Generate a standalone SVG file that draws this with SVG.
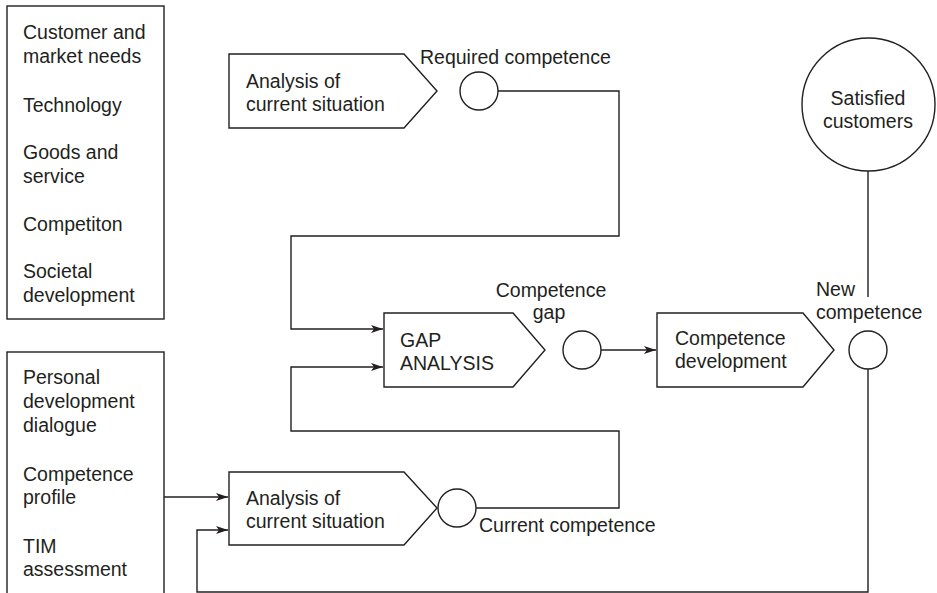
<svg xmlns="http://www.w3.org/2000/svg" width="937" height="593" viewBox="0 0 937 593">
  <style>
    .shape { fill: #ffffff; stroke: #231f20; stroke-width: 1.4; }
    .wire { fill: none; stroke: #231f20; stroke-width: 1.4; }
    text { font-family: "Liberation Sans", Arial, sans-serif; font-size: 19.5px; fill: #231f20; }
    .mid { text-anchor: middle; }
  </style>
  <defs>
    <marker id="arrow" viewBox="0 0 12 8" refX="12" refY="4" markerWidth="12" markerHeight="8" markerUnits="userSpaceOnUse" orient="auto">
      <path d="M0,0 L12,4 L0,8 L3,4 Z" fill="#231f20"/>
    </marker>
  </defs>
  <rect width="937" height="593" fill="#ffffff"/>

  <!-- connectors -->
  <g id="connectors">
    <!-- required competence down into gap analysis -->
    <polyline class="wire" points="498,91 619,91 619,236 291,236 291,329 383,329" marker-end="url(#arrow)"/>
    <!-- current competence up into gap analysis -->
    <polyline class="wire" points="476,508 619,508 619,431 291,431 291,367 383,367" marker-end="url(#arrow)"/>
    <!-- competence gap to development -->
    <line class="wire" x1="601" y1="350" x2="656" y2="350" marker-end="url(#arrow)"/>
    <!-- competence profile into current analysis -->
    <line class="wire" x1="164" y1="497" x2="228" y2="497" marker-end="url(#arrow)"/>
    <!-- new competence feeding back -->
    <polyline class="wire" points="868,369 868,592 197,592 197,530 228,530" marker-end="url(#arrow)"/>
    <!-- new competence to satisfied customers -->
    <line class="wire" x1="868" y1="171" x2="868" y2="297"/>
  </g>

  <!-- external factors -->
  <g id="external-factors">
    <rect class="shape" x="7" y="6" width="157" height="313"/>
    <text x="23" y="39">Customer and</text>
    <text x="23" y="63">market needs</text>
    <text x="23" y="112">Technology</text>
    <text x="23" y="159">Goods and</text>
    <text x="23" y="183">service</text>
    <text x="23" y="231">Competiton</text>
    <text x="23" y="278">Societal</text>
    <text x="23" y="302">development</text>
  </g>

  <!-- individual inputs -->
  <g id="individual-inputs">
    <rect class="shape" x="7" y="352" width="157" height="260"/>
    <text x="23" y="384">Personal</text>
    <text x="23" y="408">development</text>
    <text x="23" y="432">dialogue</text>
    <text x="23" y="481">Competence</text>
    <text x="23" y="504">profile</text>
    <text x="23" y="553">TIM</text>
    <text x="23" y="576">assessment</text>
  </g>

  <!-- analysis of the required situation -->
  <g id="analysis-required">
    <polygon class="shape" points="229,54 404,54 437,91 404,128 229,128"/>
    <text x="246" y="88">Analysis of</text>
    <text x="246" y="111">current situation</text>
  </g>
  <g id="required-competence">
    <circle class="shape" cx="479" cy="91" r="19"/>
    <text x="420" y="64">Required competence</text>
  </g>

  <!-- gap analysis -->
  <g id="gap-analysis">
    <polygon class="shape" points="384,313 513,313 545,350 513,387 384,387"/>
    <text x="400" y="347">GAP</text>
    <text x="400" y="370">ANALYSIS</text>
  </g>
  <g id="competence-gap">
    <circle class="shape" cx="582" cy="350" r="19"/>
    <text class="mid" x="551" y="297">Competence</text>
    <text class="mid" x="549" y="319">gap</text>
  </g>

  <!-- competence development -->
  <g id="competence-development">
    <polygon class="shape" points="657,313 803,313 834,350 803,387 657,387"/>
    <text x="675" y="345">Competence</text>
    <text x="675" y="368">development</text>
  </g>
  <g id="new-competence">
    <circle class="shape" cx="868" cy="350" r="19"/>
    <text x="816" y="296">New</text>
    <text x="816" y="319">competence</text>
  </g>

  <!-- satisfied customers -->
  <g id="satisfied-customers">
    <circle class="shape" cx="868.5" cy="104.5" r="66.5"/>
    <text class="mid" x="868" y="105">Satisfied</text>
    <text class="mid" x="868" y="128">customers</text>
  </g>

  <!-- analysis of the current situation -->
  <g id="analysis-current">
    <polygon class="shape" points="229,472 404,472 437,508 404,545 229,545"/>
    <text x="246" y="505">Analysis of</text>
    <text x="246" y="528">current situation</text>
  </g>
  <g id="current-competence">
    <circle class="shape" cx="457" cy="508" r="19"/>
    <text x="479" y="532">Current competence</text>
  </g>
</svg>
